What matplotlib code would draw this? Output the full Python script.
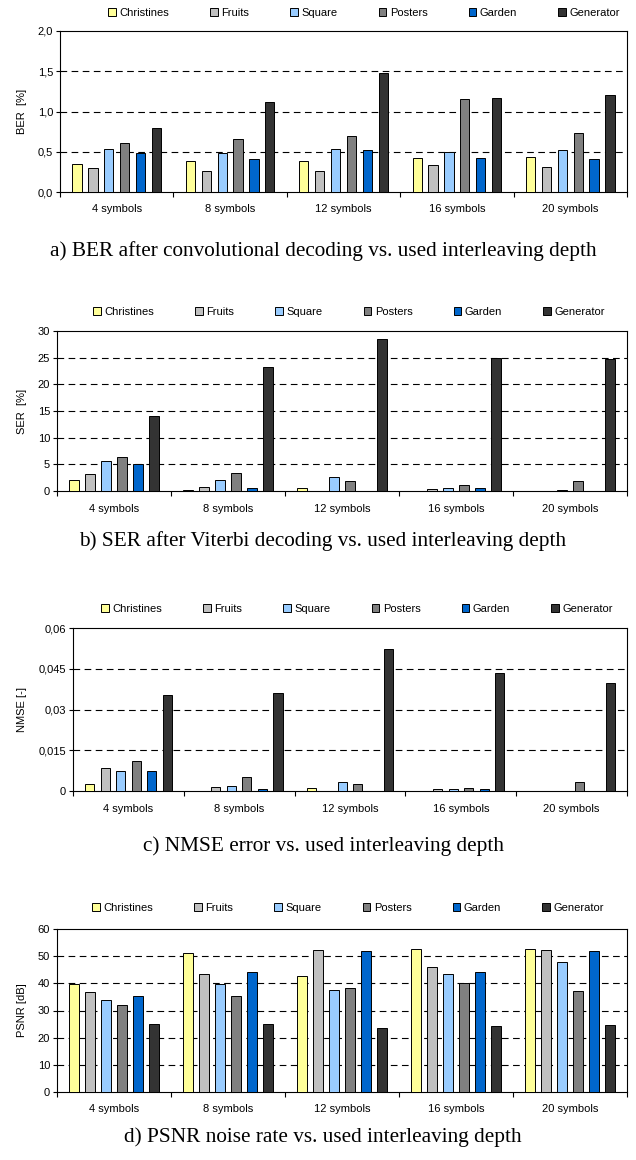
import numpy as np
import matplotlib.pyplot as plt

# interleaving depth groups and test sequences
groups = ['4 symbols', '8 symbols', '12 symbols', '16 symbols', '20 symbols']
series = ['Christines', 'Fruits', 'Square', 'Posters', 'Garden', 'Generator']
colors = ['#FFFF99', '#C0C0C0', '#99CCFF', '#808080', '#0066CC', '#333333']

# one row per sequence, one column per group
ber = [[0.35, 0.38, 0.39, 0.42, 0.43],
       [0.30, 0.26, 0.26, 0.33, 0.31],
       [0.53, 0.49, 0.54, 0.50, 0.52],
       [0.61, 0.66, 0.70, 1.15, 0.73],
       [0.49, 0.41, 0.52, 0.42, 0.41],
       [0.80, 1.12, 1.48, 1.17, 1.20]]

ser = [[2.0, 0.15, 0.6, 0.0, 0.0],
       [3.25, 0.8, 0.0, 0.35, 0.0],
       [5.6, 2.0, 2.6, 0.6, 0.15],
       [6.4, 3.4, 1.8, 1.2, 1.8],
       [5.0, 0.6, 0.0, 0.6, 0.0],
       [14.0, 23.2, 28.5, 25.0, 24.7]]

nmse = [[0.0025, 0.0, 0.0011, 0.0, 0.0],
        [0.0085, 0.0016, 0.0, 0.0007, 0.0],
        [0.0072, 0.0019, 0.0034, 0.0007, 0.0],
        [0.0112, 0.0052, 0.0024, 0.0012, 0.0034],
        [0.0072, 0.0007, 0.0, 0.0007, 0.0],
        [0.0355, 0.0359, 0.0524, 0.0434, 0.0398]]

psnr = [[39.6, 51.3, 42.8, 52.6, 52.6],
        [36.8, 43.5, 52.2, 45.9, 52.2],
        [34.0, 39.6, 37.6, 43.5, 47.8],
        [32.0, 35.2, 38.4, 40.3, 37.3],
        [35.2, 44.0, 51.8, 44.0, 51.8],
        [25.0, 25.0, 23.4, 24.2, 24.7]]

ylabels = ['BER  [%]', 'SER  [%]', 'NMSE [-]', 'PSNR [dB]']
captions = ['a) BER after convolutional decoding vs. used interleaving depth',
            'b) SER after Viterbi decoding vs. used interleaving depth',
            'c) NMSE error vs. used interleaving depth',
            'd) PSNR noise rate vs. used interleaving depth']
yticks = [[0, 0.5, 1.0, 1.5, 2.0],
          [0, 5, 10, 15, 20, 25, 30],
          [0, 0.015, 0.03, 0.045, 0.06],
          [0, 10, 20, 30, 40, 50, 60]]
yticklabels = [['0,0', '0,5', '1,0', '1,5', '2,0'],
               ['0', '5', '10', '15', '20', '25', '30'],
               ['0', '0,015', '0,03', '0,045', '0,06'],
               ['0', '10', '20', '30', '40', '50', '60']]

plt.rcParams['font.family'] = ['Liberation Sans', 'DejaVu Sans']
plt.rcParams['font.size'] = 8

W, H = 636, 1160
fig = plt.figure(figsize=(W / 100, H / 100), dpi=100)

# pixel layout of each panel
left_px = [60, 57, 73, 57]
top_px = [31, 331, 628, 929]
bot_px = [192, 491, 791, 1092]
leg_y = [13, 312, 609, 908]
leg_x = [364, 349, 357, 348]
cap_y = [256, 546, 851, 1142]
right_px = 627

data = [ber, ser, nmse, psnr]
x = np.arange(len(groups)) + 0.5
step = 0.14
width = 0.082

for i in range(4):
    ax = fig.add_axes([left_px[i] / W, 1 - bot_px[i] / H,
                       (right_px - left_px[i]) / W, (bot_px[i] - top_px[i]) / H])
    for j in range(len(series)):
        ax.bar(x + (j - 2.5) * step, data[i][j], width, color=colors[j],
               edgecolor='black', linewidth=0.7, label=series[j], zorder=3)

    ax.set_xlim(0, len(groups))
    ax.set_ylim(yticks[i][0], yticks[i][-1])
    ax.set_yticks(yticks[i])
    ax.set_yticklabels(yticklabels[i])
    for t in yticks[i][1:-1]:
        ax.axhline(t, color='black', linestyle=(0, (6, 4)), linewidth=0.8, zorder=1)

    # group separators as ticks, names centred between them
    ax.set_xticks(np.arange(len(groups) + 1))
    ax.set_xticklabels([])
    ax.set_xticks(x, minor=True)
    ax.set_xticklabels(groups, minor=True)
    ax.tick_params(axis='x', which='minor', length=0, pad=9)
    ax.tick_params(axis='x', which='major', length=3.5, width=0.8)
    ax.tick_params(axis='y', length=3, width=0.8, pad=2)
    for s in ax.spines.values():
        s.set_linewidth(0.8)
    ax.set_ylabel(ylabels[i], labelpad=8)

    fig.legend(*ax.get_legend_handles_labels(), loc='center',
               bbox_to_anchor=(leg_x[i] / W, 1 - leg_y[i] / H),
               ncol=6, frameon=False, handlelength=0.7, handleheight=0.7,
               handletextpad=0.3, columnspacing=3.7, borderaxespad=0, borderpad=0)

    fig.text(323 / W, 1 - cap_y[i] / H, captions[i], ha='center', va='baseline',
             family='Liberation Serif', fontsize=15.3)

fig.savefig('out.png', dpi=100)
